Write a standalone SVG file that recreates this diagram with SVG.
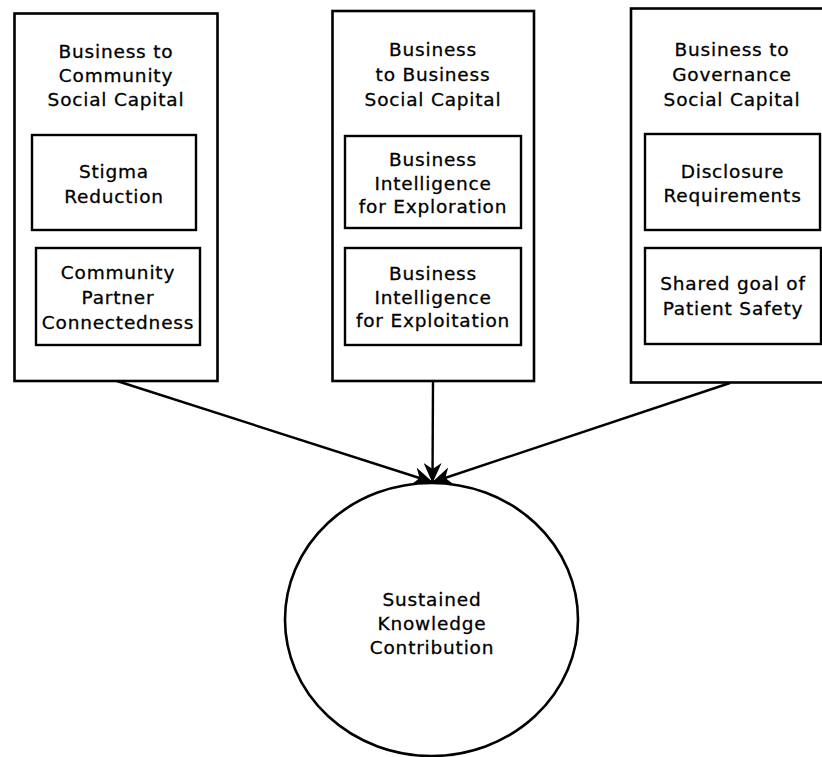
<svg xmlns="http://www.w3.org/2000/svg" width="822" height="757" viewBox="0 0 822 757">
  <style>
    .box { fill: #ffffff; stroke: #000000; stroke-width: 2.6; }
    .inner { fill: #ffffff; stroke: #000000; stroke-width: 2.4; }
    .label { font-family: "DejaVu Sans", Verdana, sans-serif; font-size: 18.5px; letter-spacing: 0.8px; fill: #000000; stroke: #000000; stroke-width: 0.3; text-anchor: middle; }
    .edge { fill: none; stroke: #000000; stroke-width: 2.4; }
  </style>
  <defs>
    <marker id="arrow" viewBox="0 0 20 18" refX="19" refY="9" markerWidth="20" markerHeight="18" markerUnits="userSpaceOnUse" orient="auto">
      <path d="M0,0 L20,9 L0,18 L6,9 Z" fill="#000000"/>
    </marker>
  </defs>
  <rect width="822" height="757" fill="#ffffff"/>

  <!-- Business to Community -->
  <g id="b2c">
    <rect class="box" x="14.5" y="13.5" width="203" height="367.5"/>
    <text class="label" x="116" y="58">Business to</text>
    <text class="label" x="116" y="82">Community</text>
    <text class="label" x="116" y="106">Social Capital</text>
  </g>
  <g id="stigma">
    <rect class="inner" x="32" y="135" width="164" height="95"/>
    <text class="label" x="114" y="178">Stigma</text>
    <text class="label" x="114" y="203">Reduction</text>
  </g>
  <g id="partner">
    <rect class="inner" x="36" y="248" width="164" height="97"/>
    <text class="label" x="118" y="279">Community</text>
    <text class="label" x="118" y="304">Partner</text>
    <text class="label" x="118" y="329">Connectedness</text>
  </g>

  <!-- Business to Business -->
  <g id="b2b">
    <rect class="box" x="332.5" y="11" width="201.5" height="370"/>
    <text class="label" x="433" y="56">Business</text>
    <text class="label" x="433" y="81">to Business</text>
    <text class="label" x="433" y="106">Social Capital</text>
  </g>
  <g id="exploration">
    <rect class="inner" x="345" y="136" width="176" height="92"/>
    <text class="label" x="433" y="166">Business</text>
    <text class="label" x="433" y="189.5">Intelligence</text>
    <text class="label" x="433" y="213">for Exploration</text>
  </g>
  <g id="exploitation">
    <rect class="inner" x="345" y="248" width="176" height="97"/>
    <text class="label" x="433" y="280">Business</text>
    <text class="label" x="433" y="303.5">Intelligence</text>
    <text class="label" x="433" y="327">for Exploitation</text>
  </g>

  <!-- Business to Governance -->
  <g id="b2g">
    <rect class="box" x="631" y="8.5" width="200" height="374"/>
    <text class="label" x="732" y="56">Business to</text>
    <text class="label" x="732" y="81">Governance</text>
    <text class="label" x="732" y="106">Social Capital</text>
  </g>
  <g id="disclosure">
    <rect class="inner" x="645" y="134" width="175" height="96"/>
    <text class="label" x="732.5" y="178">Disclosure</text>
    <text class="label" x="732.5" y="202">Requirements</text>
  </g>
  <g id="safety">
    <rect class="inner" x="645" y="248" width="176" height="96"/>
    <text class="label" x="733" y="290">Shared goal of</text>
    <text class="label" x="733" y="315">Patient Safety</text>
  </g>

  <!-- Outcome -->
  <g id="outcome">
    <ellipse class="box" cx="431.5" cy="619.5" rx="146.5" ry="136.5"/>
    <text class="label" x="432" y="606">Sustained</text>
    <text class="label" x="432" y="630">Knowledge</text>
    <text class="label" x="432" y="654">Contribution</text>
  </g>

  <!-- Connectors -->
  <g id="connectors">
    <line class="edge" x1="117" y1="381" x2="432" y2="482" marker-end="url(#arrow)"/>
    <line class="edge" x1="433" y1="381" x2="432.5" y2="482" marker-end="url(#arrow)"/>
    <line class="edge" x1="730" y1="383" x2="433" y2="482" marker-end="url(#arrow)"/>
  </g>
</svg>
